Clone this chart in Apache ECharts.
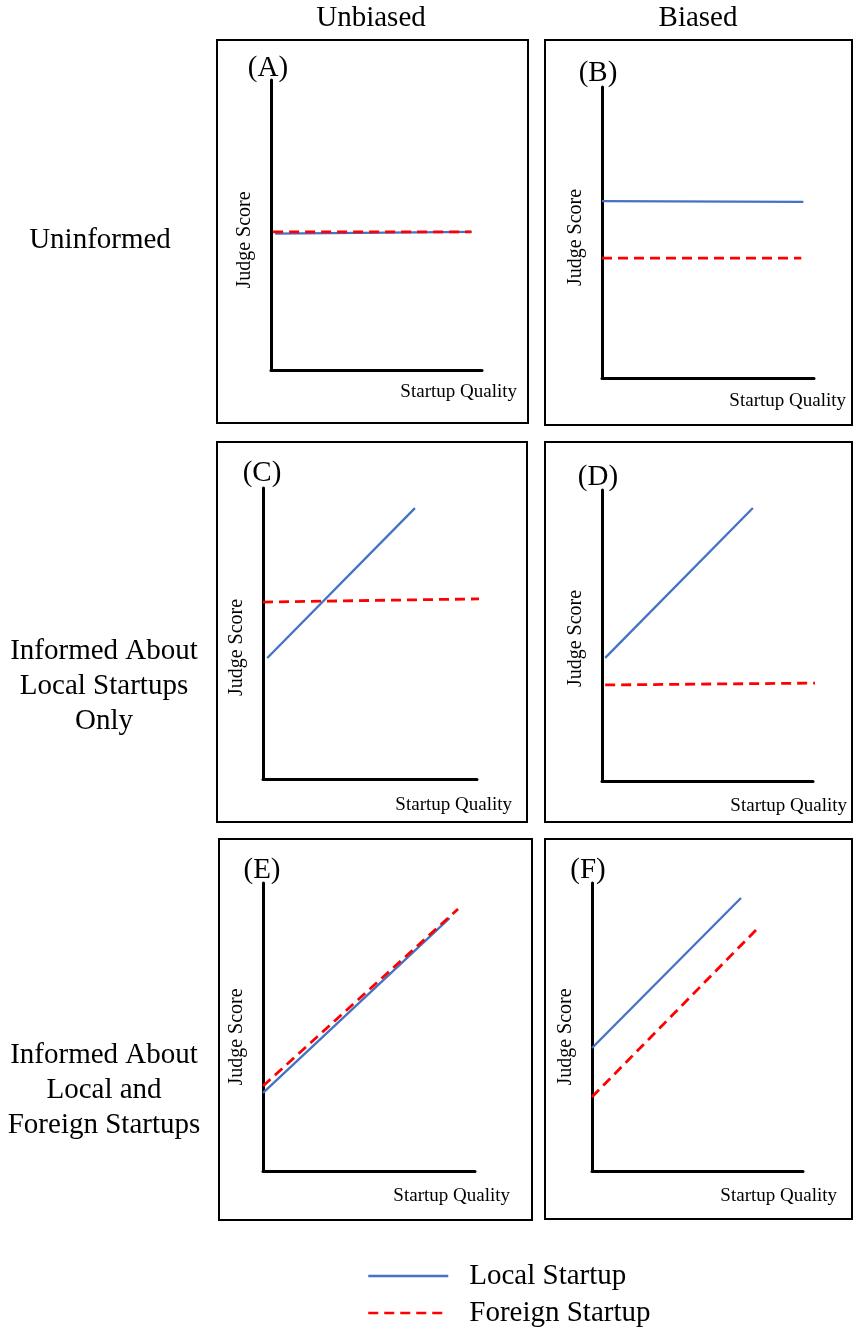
<!DOCTYPE html>
<html>
<head>
<meta charset="utf-8">
<script src="https://cdn.jsdelivr.net/npm/echarts@6/dist/echarts.min.js"></script>
<style>
html,body{margin:0;padding:0;background:#fff;}
#chart{width:853px;height:1331px;}
</style>
</head>
<body>
<div id="chart"></div>
<script>
// ---- Data (x = startup quality, y = judge score; both on a 0-100 axis) ----
const panelLabels = ['(A)', '(B)', '(C)', '(D)', '(E)', '(F)'];
const columnHeaders = ['Unbiased', 'Biased'];
const rowHeaders = ['Uninformed', 'Informed About\nLocal Startups\nOnly', 'Informed About\nLocal and\nForeign Startups'];
const seriesNames = ['Local Startup', 'Foreign Startup'];
const xAxisTitle = 'Startup Quality';
const yAxisTitle = 'Judge Score';

const localA = [[2, 47.0], [95, 47.6]];
const foreignA = [[1, 47.6], [95, 47.6]];
const localB = [[0, 60.8], [95, 60.5]];
const foreignB = [[0, 41.2], [94, 41.2]];
const localC = [[2, 41.6], [71, 93.1]];
const foreignC = [[0, 60.8], [101, 61.9]];
const localD = [[1.5, 42.3], [71.5, 93.8]];
const foreignD = [[1.5, 33.0], [109, 33.7]];
const localE = [[0, 27.1], [88, 87.8]];
const foreignE = [[0, 29.5], [92, 91.0]];
const localF = [[0, 42.7], [70.6, 94.8]];
const foreignF = [[0, 25.7], [78.7, 84.4]];

const localData = [localA, localB, localC, localD, localE, localF];
const foreignData = [foreignA, foreignB, foreignC, foreignD, foreignE, foreignF];

// ---- Layout ----
const SERIF = '"Liberation Serif", "Times New Roman", serif';
const BLUE = '#4472C4';
const RED = '#FF0000';

const grids = [
  {left: 271, top: 80, width: 211, height: 290},
  {left: 602, top: 87, width: 212, height: 291},
  {left: 263, top: 488, width: 214, height: 291},
  {left: 602, top: 490, width: 211, height: 291},
  {left: 263, top: 883, width: 212, height: 288},
  {left: 592, top: 883, width: 211, height: 288}
];
const boxes = [
  {x: 217, y: 40, w: 311, h: 383},
  {x: 545, y: 40, w: 307, h: 385},
  {x: 217, y: 442, w: 310, h: 380},
  {x: 545, y: 442, w: 307, h: 380},
  {x: 219, y: 839, w: 313, h: 381},
  {x: 545, y: 839, w: 307, h: 380}
];
const labelPos = [[268, 68], [598, 73], [262, 473], [598, 477], [262, 870], [588, 870]];
const yNameShift = [30, 10, 28, 6, 20, 20];
const xNameGap = [35, 32, 35, 34, 35, 34];
const xNameDrop = [13, 14, 17, 16, 16, 16];

const axisLine = {show: true, onZero: false, lineStyle: {color: '#000', width: 3}};

const option = {
  backgroundColor: '#fff',
  animation: false,
  grid: grids.map(g => Object.assign({containLabel: false}, g)),
  xAxis: grids.map((g, i) => ({
    type: 'value', gridIndex: i, min: 0, max: 100,
    axisLine: axisLine, axisTick: {show: false}, axisLabel: {show: false}, splitLine: {show: false},
    name: xAxisTitle, nameLocation: 'end', nameGap: xNameGap[i],
    nameTextStyle: {fontFamily: SERIF, fontSize: 19, color: '#000', align: 'right', verticalAlign: 'top', padding: [xNameDrop[i], 0, 0, 0]}
  })),
  yAxis: grids.map((g, i) => ({
    type: 'value', gridIndex: i, min: 0, max: 100,
    axisLine: axisLine, axisTick: {show: false}, axisLabel: {show: false}, splitLine: {show: false},
    name: yAxisTitle, nameLocation: 'middle', nameRotate: 90, nameGap: 16,
    nameTextStyle: {fontFamily: SERIF, fontSize: 20, color: '#000', padding: [0, yNameShift[i], 0, 0]}
  })),
  legend: {
    orient: 'vertical', left: 367, top: 1261, padding: 0,
    itemWidth: 80, itemHeight: 14, itemGap: 7,
    data: seriesNames,
    itemStyle: {opacity: 0, color: 'rgba(0,0,0,0)', borderWidth: 0},
    lineStyle: {opacity: 1, width: 2.5},
    textStyle: {fontFamily: SERIF, fontSize: 29, color: '#000', lineHeight: 30, padding: [0, 0, 0, 16]}
  },
  graphic: [].concat(
    boxes.map(b => ({type: 'rect', shape: {x: b.x, y: b.y, width: b.w, height: b.h}, style: {fill: null, stroke: '#000', lineWidth: 2}, silent: true})),
    panelLabels.map((t, i) => ({type: 'text', x: labelPos[i][0], y: labelPos[i][1], style: {text: t, font: '29px ' + SERIF, fill: '#000', align: 'center', verticalAlign: 'middle'}})),
    [
      {type: 'text', x: 371, y: 18, style: {text: columnHeaders[0], font: '29px ' + SERIF, fill: '#000', align: 'center', verticalAlign: 'middle'}},
      {type: 'text', x: 698, y: 18, style: {text: columnHeaders[1], font: '29px ' + SERIF, fill: '#000', align: 'center', verticalAlign: 'middle'}},
      {type: 'text', x: 100, y: 240, style: {text: rowHeaders[0], font: '29px ' + SERIF, fill: '#000', align: 'center', verticalAlign: 'middle', lineHeight: 35}},
      {type: 'text', x: 104, y: 686, style: {text: rowHeaders[1], font: '29px ' + SERIF, fill: '#000', align: 'center', verticalAlign: 'middle', lineHeight: 35}},
      {type: 'text', x: 104, y: 1090, style: {text: rowHeaders[2], font: '29px ' + SERIF, fill: '#000', align: 'center', verticalAlign: 'middle', lineHeight: 35}}
    ]
  ),
  series: [].concat(
    localData.map((d, i) => ({
      name: seriesNames[0], type: 'line', xAxisIndex: i, yAxisIndex: i, data: d,
      symbol: 'none', clip: false, z: 2,
      lineStyle: {color: BLUE, width: 2.3}, itemStyle: {color: BLUE}
    })),
    foreignData.map((d, i) => ({
      name: seriesNames[1], type: 'line', xAxisIndex: i, yAxisIndex: i, data: d,
      symbol: 'none', clip: false, z: 3,
      lineStyle: {color: RED, width: 2.8, type: [10, 6]}, itemStyle: {color: RED}
    }))
  )
};

const chart = echarts.init(document.getElementById('chart'), null, {renderer: 'canvas'});
chart.setOption(option);
</script>
</body>
</html>
